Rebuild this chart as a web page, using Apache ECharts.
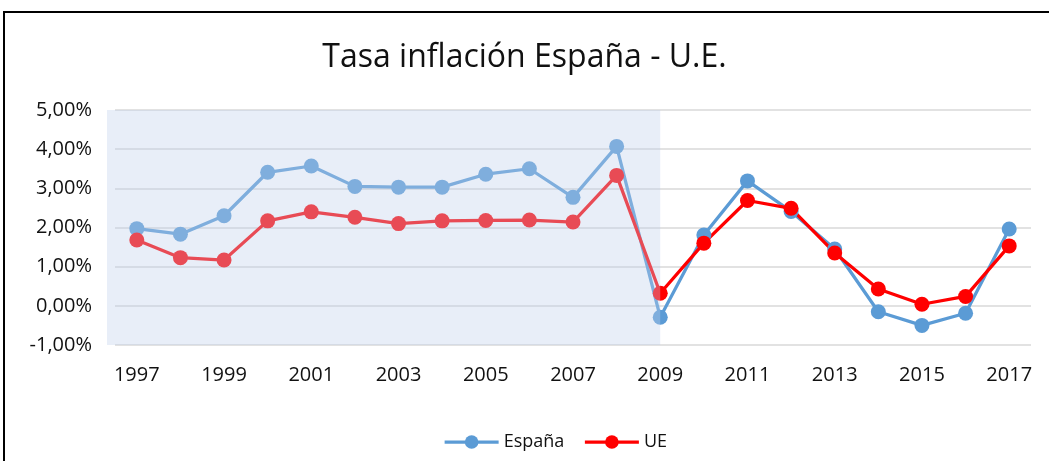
<!DOCTYPE html>
<html>
<head>
    <meta charset="utf-8">
    <title>Tasa inflación España - U.E.</title>
    <script src="https://cdn.jsdelivr.net/npm/echarts@6/dist/echarts.min.js"></script>
</head>
<body style="margin:0;">
<div id="main" style="width: 1049px;height:461px;"></div>
<script type="text/javascript">
    // datos
    var years = ['1997', '1998', '1999', '2000', '2001', '2002', '2003', '2004', '2005', '2006', '2007',
        '2008', '2009', '2010', '2011', '2012', '2013', '2014', '2015', '2016', '2017'];
    var espana = [1.97, 1.83, 2.30, 3.41, 3.57, 3.05, 3.03, 3.03, 3.36, 3.50, 2.77,
        4.07, -0.29, 1.81, 3.19, 2.41, 1.45, -0.15, -0.50, -0.19, 1.96];
    var ue = [1.68, 1.23, 1.17, 2.17, 2.40, 2.26, 2.10, 2.17, 2.18, 2.19, 2.14,
        3.33, 0.32, 1.60, 2.69, 2.49, 1.35, 0.43, 0.04, 0.24, 1.53];
    var shadeFrom = '1997';
    var shadeTo = '2009';

    var fontFam = '"Open Sans", Lato, sans-serif';
    var myChart = echarts.init(document.getElementById('main'));

    var option = {
        backgroundColor: '#fff',
        animation: false,
        title: {
            text: 'Tasa inflación España - U.E.',
            left: 'center',
            top: 37,
            textStyle: { fontFamily: fontFam, fontSize: 32, fontWeight: 'normal', color: '#111' }
        },
        legend: {
            data: ['España', 'UE'],
            top: 428,
            left: 438,
            itemWidth: 54,
            itemHeight: 17,
            itemGap: 19,
            lineStyle: { width: 3.25 },
            textStyle: { fontFamily: fontFam, fontSize: 18, color: '#111' }
        },
        grid: { left: 115, right: 18, top: 110, bottom: 116, containLabel: false },
        xAxis: {
            type: 'category',
            data: years,
            boundaryGap: true,
            axisLine: { show: false },
            axisTick: { show: false },
            axisLabel: {
                interval: 1,
                margin: 20,
                fontFamily: fontFam, fontSize: 20, color: '#111'
            }
        },
        yAxis: {
            type: 'value',
            min: -1,
            max: 5,
            interval: 1,
            axisLine: { show: false },
            axisTick: { show: false },
            axisLabel: {
                margin: 23,
                fontFamily: fontFam, fontSize: 20, color: '#111',
                formatter: function (v) { return v.toFixed(2).replace('.', ',') + '%'; }
            },
            splitLine: { lineStyle: { color: '#d9d9d9', width: 1.5 } }
        },
        series: [{
            name: 'España',
            type: 'line',
            data: espana,
            symbol: 'circle',
            symbolSize: 15,
            itemStyle: { color: '#5b9bd5' },
            lineStyle: { color: '#5b9bd5', width: 3.25 }
        }, {
            name: 'UE',
            type: 'line',
            data: ue,
            symbol: 'circle',
            symbolSize: 15,
            itemStyle: { color: '#ff0000' },
            lineStyle: { color: '#ff0000', width: 3.25 }
        }]
    };

    myChart.setOption(option);

    // zona sombreada (por encima de las líneas) y marco exterior
    var pTop = myChart.convertToPixel({ yAxisIndex: 0 }, 5);
    var pBot = myChart.convertToPixel({ yAxisIndex: 0 }, -1);
    var band = myChart.convertToPixel({ xAxisIndex: 0 }, years[1]) - myChart.convertToPixel({ xAxisIndex: 0 }, years[0]);
    var pLeft = myChart.convertToPixel({ xAxisIndex: 0 }, shadeFrom) - band / 2 - 8;
    var pRight = myChart.convertToPixel({ xAxisIndex: 0 }, shadeTo);

    myChart.setOption({
        graphic: [{
            type: 'rect',
            z: 100,
            silent: true,
            shape: { x: pLeft, y: pTop, width: pRight - pLeft, height: pBot - pTop },
            style: { fill: 'rgba(190,208,235,0.36)' }
        }, {
            type: 'rect',
            z: 100,
            silent: true,
            shape: { x: 4, y: 12, width: 1100, height: 600 },
            style: { fill: 'none', stroke: '#000', lineWidth: 2 }
        }]
    });
</script>
</body>
</html>
